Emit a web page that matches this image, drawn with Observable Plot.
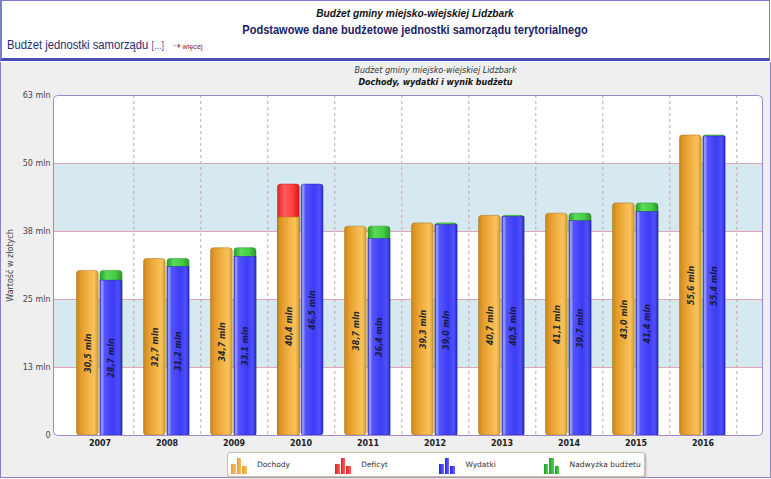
<!DOCTYPE html>
<html><head><meta charset="utf-8">
<script src="https://cdn.jsdelivr.net/npm/d3@7"></script>
<script src="https://cdn.jsdelivr.net/npm/@observablehq/plot@0.6"></script>
<style>
body{margin:0;width:771px;height:479px;overflow:hidden;position:relative;background:#fff;font-family:"Liberation Sans",Arial,sans-serif}
#top{position:absolute;left:0;top:0;width:767px;height:57px;border:2px solid #7b7bd6;border-top:1px solid #7b7bd6;border-right:1px solid #7b7bd6;border-bottom:3px solid #4a4ab4;background:#fff}
#t1{position:absolute;left:0;width:826px;top:6px;text-align:center;font:italic bold 10.5px "Liberation Sans",Arial,sans-serif;color:#111;transform:scaleX(0.97)}
#t2{position:absolute;left:0;width:826px;top:22px;text-align:center;font:bold 12px "Liberation Sans",Arial,sans-serif;color:#1c1c66;transform:scaleX(0.92)}
#t3{position:absolute;left:5px;top:37px;font:12.5px "Liberation Sans",Arial,sans-serif;color:#2a2a72;white-space:nowrap;transform:scaleX(0.9);transform-origin:left center}
#t3 .dots{font-size:10px;color:#555588}
#t3 .more{font-size:8px;color:#8a2a2a}
#gray{position:absolute;left:0;top:62px;width:769px;height:415px;background:#efefef;border-left:1px solid #8c7ccc;border-right:1px solid #8c7ccc;border-bottom:1px solid #8c7ccc}
.ct{position:absolute;left:0;width:871px;text-align:center;font-family:"DejaVu Sans";font-size:8px;color:#333;font-style:italic}
#chart{position:absolute;left:0;top:62px}
#legend{position:absolute;left:227px;top:452px;width:416px;height:23px;background:#fff;border:1px solid #cdbfb0;border-radius:3px;box-shadow:1px 1px 2px #b0a8a0}
.li{position:absolute;top:0;height:23px;font-family:"DejaVu Sans";font-size:7.5px;color:#333}
.li span.lab{position:absolute;top:7px;white-space:nowrap}
.ib{position:absolute;width:4.5px;bottom:2px}
</style></head>
<body>
<div id="top">
  <div id="t1">Budżet gminy miejsko-wiejskiej Lidzbark</div>
  <div id="t2">Podstawowe dane budżetowe jednostki samorządu terytorialnego</div>
  <div id="t3">Budżet jednostki samorządu <span class="dots">[...]</span>&nbsp;&nbsp;&nbsp;<span class="more"><span style="font-size:10px">⇢</span> więcej</span></div>
</div>
<div id="gray"></div>
<div class="ct" style="top:66px">Budżet gminy miejsko-wiejskiej Lidzbark</div>
<div class="ct" style="top:78px;font-weight:bold;color:#111">Dochody, wydatki i wynik budżetu</div>
<div id="chart"></div>
<div id="legend"></div>
<script>
// ---- data ----
const years = ["2007","2008","2009","2010","2011","2012","2013","2014","2015","2016"];
const dochody = [30.5, 32.7, 34.7, 40.4, 38.7, 39.3, 40.7, 41.1, 43.0, 55.6];
const wydatki = [28.7, 31.2, 33.1, 46.5, 36.4, 39.0, 40.5, 39.7, 41.4, 55.4];
const deficyt = [0, 0, 0, 6.1, 0, 0, 0, 0, 0, 0];
const nadwyzka = [1.8, 1.5, 1.6, 0, 2.3, 0.3, 0.2, 1.4, 1.6, 0.2];
const yTicks = [0, 12.6, 25.2, 37.8, 50.4, 63];
const legendLabels = ["Dochody", "Deficyt", "Wydatki", "Nadwyżka budżetu"];

const rows = years.map((year, i) => ({year, dochody: dochody[i], wydatki: wydatki[i], deficyt: deficyt[i], nadwyzka: nadwyzka[i]}));
const bands = [{lo: yTicks[1], hi: yTicks[2]}, {lo: yTicks[3], hi: yTicks[4]}];
const fmt = v => v.toFixed(1).replace(".", ",") + " mln";

const O = {x: "year", insetLeft: 10.5, insetRight: 34.8};
const B = {x: "year", insetLeft: 34.0, insetRight: 11.0};

const chart = Plot.plot({
  width: 771, height: 388,
  marginLeft: 53, marginRight: 9, marginTop: 33, marginBottom: 15,
  style: {background: "transparent", fontFamily: "DejaVu Sans", fontSize: "8px"},
  x: {type: "band", domain: years, padding: 0, insetLeft: 10.4, insetRight: 22.6},
  y: {domain: [0, 63]},
  marks: [
    Plot.frame({fill: "white"}),
    Plot.rect(bands, {y1: "lo", y2: "hi", fill: "#d6e8f0"}),
    Plot.ruleY(yTicks.slice(1, -1), {stroke: "#e0a6b6"}),
    Plot.ruleX(years, {x: d => d, dx: 33.8, stroke: "#c9a3b3", strokeDasharray: "3,3"}),
    // Dochody + Deficyt
    Plot.barY(rows.filter(d => d.deficyt > 0), {...O, y1: 0, y2: d => d.dochody + d.deficyt, fill: "url(#gR)", stroke: "#c02020", strokeWidth: 0.5, rx: 3}),
    Plot.barY(rows.filter(d => d.deficyt > 0), {...O, y1: 0, y2: "dochody", fill: "url(#gO)", stroke: "#a8741a", strokeWidth: 0.5}),
    Plot.barY(rows.filter(d => !(d.deficyt > 0)), {...O, y1: 0, y2: "dochody", fill: "url(#gO)", stroke: "#a8741a", strokeWidth: 0.5, rx: 3}),
    // Wydatki + Nadwyżka
    Plot.barY(rows.filter(d => d.nadwyzka > 0), {...B, y1: 0, y2: d => d.wydatki + d.nadwyzka, fill: "url(#gG)", stroke: "#2a8a2a", strokeWidth: 0.5, rx: 3}),
    Plot.barY(rows.filter(d => d.nadwyzka > 0), {...B, y1: 0, y2: "wydatki", fill: "url(#gB)", stroke: "#2828a0", strokeWidth: 0.5}),
    Plot.barY(rows.filter(d => !(d.nadwyzka > 0)), {...B, y1: 0, y2: "wydatki", fill: "url(#gB)", stroke: "#2828a0", strokeWidth: 0.5, rx: 3}),
    Plot.text(rows, {x: "year", y: d => d.dochody / 2, text: d => fmt(d.dochody), rotate: -90, dx: -11.6, fontWeight: "bold", fontStyle: "italic", fontSize: 8, fill: "#2a2a2a"}),
    Plot.text(rows, {x: "year", y: d => d.wydatki / 2, text: d => fmt(d.wydatki), rotate: -90, dx: 11.7, fontWeight: "bold", fontStyle: "italic", fontSize: 8, fill: "#1a1a44"}),
    Plot.frame({stroke: "#a088c4", rx: 4}),
    Plot.axisX({tickSize: 0, tickPadding: 5, fontWeight: "bold", fill: "#222", label: null}),
    Plot.axisY({ticks: yTicks, tickFormat: d => d === 0 ? "0" : Math.round(d) + " mln", tickSize: 0, tickPadding: 3, fill: "#444",
      label: "Wartość w złotych", labelAnchor: "center", labelArrow: "none", labelOffset: 46})
  ]
});

// gradients
const grads = {
  gO: [[0, "#c8861e"], [0.2, "#e39b2b"], [0.55, "#f3b344"], [0.82, "#f7c25e"], [1, "#d89828"]],
  gB: [[0, "#3434d0"], [0.08, "#a4a4ff"], [0.2, "#5454ff"], [0.6, "#3c3cf4"], [0.85, "#5050ff"], [1, "#2a2ac4"]],
  gG: [[0, "#2aa02a"], [0.3, "#5ada5a"], [0.7, "#44cc44"], [1, "#2a962a"]],
  gR: [[0, "#e02020"], [0.3, "#ff5a5a"], [0.7, "#ff4040"], [1, "#d01818"]]
};
const defs = d3.select(chart).insert("defs", ":first-child");
for (const [id, stops] of Object.entries(grads)) {
  const g = defs.append("linearGradient").attr("id", id).attr("x1", "0").attr("x2", "1").attr("y1", "0").attr("y2", "0");
  for (const [o, c] of stops) g.append("stop").attr("offset", o).attr("stop-color", c);
}
document.getElementById("chart").append(chart);

// legend
const legendGrad = [["#e8a030", "#f7c060"], ["#e02020", "#ff6060"], ["#2020e0", "#6a6aff"], ["#20a020", "#50d050"]];
const lg = document.getElementById("legend");
legendLabels.forEach((lab, i) => {
  const item = document.createElement("div");
  item.className = "li";
  item.style.left = (3 + i * 104.2) + "px";
  const hs = [10, 16, 8];
  hs.forEach((h, j) => {
    const b = document.createElement("div");
    b.className = "ib";
    b.style.left = (j * 5.5) + "px";
    b.style.height = h + "px";
    b.style.background = `linear-gradient(to right, ${legendGrad[i][0]}, ${legendGrad[i][1]})`;
    item.append(b);
  });
  const s = document.createElement("span");
  s.className = "lab";
  s.style.left = "26px";
  s.textContent = lab;
  item.append(s);
  lg.append(item);
});
</script>
</body></html>
